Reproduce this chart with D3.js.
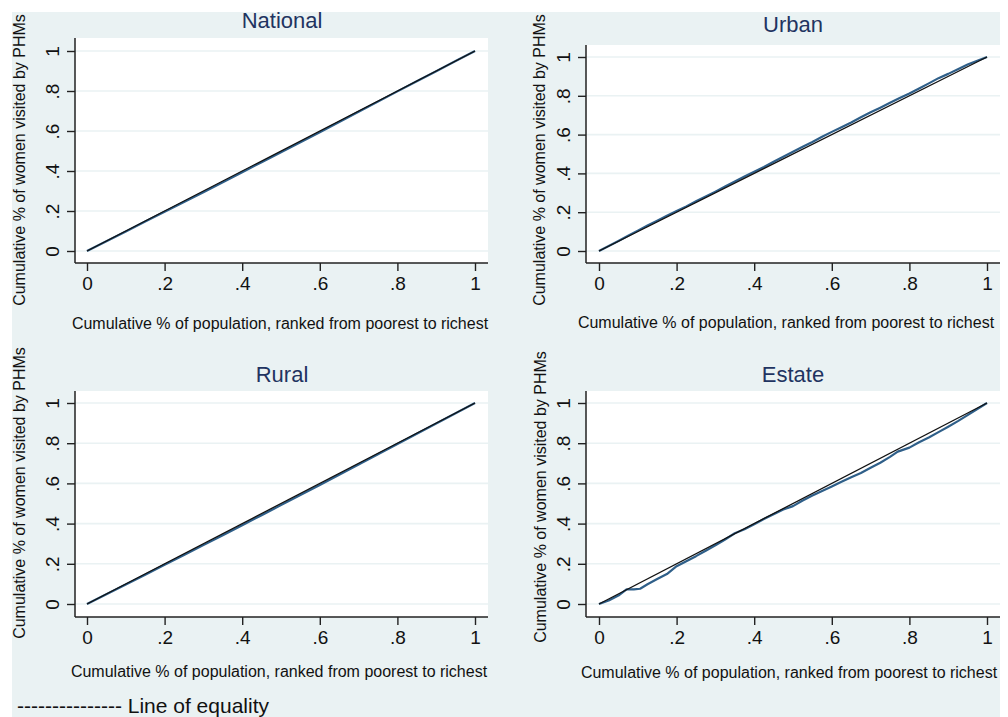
<!DOCTYPE html>
<html>
<head>
<meta charset="utf-8">
<script src="https://cdn.jsdelivr.net/npm/d3@7"></script>
<style>
  html, body { margin: 0; padding: 0; background: #ffffff; }
  svg { display: block; font-family: "Liberation Sans", Arial, Helvetica, sans-serif; }
</style>
</head>
<body>
<svg id="chart" width="1008" height="717"></svg>
<script>
// Concentration curves of PHM visits by wealth rank, four sectors.
const panelTitles = ["National", "Urban", "Rural", "Estate"];
const xAxisTitle = "Cumulative % of population, ranked from poorest to richest";
const yAxisTitle = "Cumulative % of women visited by PHMs";
const tickValues = [0, 0.2, 0.4, 0.6, 0.8, 1];
const tickLabels = ["0", ".2", ".4", ".6", ".8", "1"];
const legendNote = "Line of equality";

// population share grid (coarse) for national and rural
const popCoarse = [0, .05, .1, .15, .2, .25, .3, .35, .4, .45, .5, .55, .6, .65, .7, .75, .8, .85, .9, .95, 1];
const nationalCum = [0, .049, .098, .147, .196, .245, .294, .344, .394, .444, .494, .544, .594, .645, .696, .747, .798, .849, .899, .950, 1];
const ruralCum = [0, .049, .097, .146, .195, .244, .293, .342, .392, .442, .492, .542, .592, .643, .694, .745, .796, .847, .898, .949, 1];

// population share grid (fine) for urban and estate
const popFine = [0, .025, .05, .075, .1, .125, .15, .175, .2, .225, .25, .275, .3, .325, .35, .375, .4, .425, .45, .475,
  .5, .525, .55, .575, .6, .625, .65, .675, .7, .725, .75, .775, .8, .825, .85, .875, .9, .925, .95, .975, 1];
const urbanCum = [0, .026, .052, .079, .105, .131, .156, .182, .206, .230, .256, .281, .306, .332, .358, .384, .409, .433, .460, .486,
  .512, .537, .562, .589, .614, .638, .662, .689, .715, .739, .764, .789, .812, .838, .864, .891, .913, .937, .961, .981, 1];
const estatePop = [0, .025, .05, .071, .09, .106, .125, .15, .175, .2, .225, .25, .275, .3, .325, .35, .375, .4, .425, .45, .475,
  .5, .525, .55, .575, .6, .625, .65, .675, .7, .725, .75, .77, .8, .825, .85, .875, .9, .925, .95, .975, 1];
const estateCum = [0, .017, .042, .073, .073, .076, .098, .124, .149, .188, .213, .238, .265, .292, .321, .352, .372, .397, .423, .447, .470,
  .487, .515, .540, .562, .585, .608, .630, .652, .678, .703, .732, .758, .778, .805, .828, .855, .882, .910, .940, .970, 1];

const equalityLine = [0, 1];

// panel frames: plot area and data range in pixels
const panels = [
  { title: panelTitles[0], xs: popCoarse, ys: nationalCum, plot: [75, 488, 38, 263], xr: [87, 475], yr: [251, 51], titleY: 28, yTitleX: 25, yTitleY: 160, xTitleX: 280, xTitleY: 329, titleX: 282 },
  { title: panelTitles[1], xs: popFine, ys: urbanCum, plot: [586, 1000, 45, 263], xr: [599, 987], yr: [251, 57], titleY: 32, yTitleX: 545, yTitleY: 160, xTitleX: 786, xTitleY: 328, titleX: 793 },
  { title: panelTitles[2], xs: popCoarse, ys: ruralCum, plot: [75, 488, 391, 617], xr: [87, 475], yr: [604, 403], titleY: 382, yTitleX: 25, yTitleY: 493, xTitleX: 279, xTitleY: 677, titleX: 282 },
  { title: panelTitles[3], xs: estatePop, ys: estateCum, plot: [586, 1000, 391, 617], xr: [599, 987], yr: [604, 403], titleY: 382, yTitleX: 546, yTitleY: 497, xTitleX: 789, xTitleY: 678, titleX: 793 }
];

const svg = d3.select("#chart");
const bg = "#eaf2f3";
const curveColor = "#2f5f89";

svg.append("rect").attr("x", 12).attr("y", 12).attr("width", 988).attr("height", 705).attr("fill", bg);

panels.forEach(p => {
  const [px0, px1, py0, py1] = p.plot;
  const x = d3.scaleLinear().domain([0, 1]).range(p.xr);
  const y = d3.scaleLinear().domain([0, 1]).range(p.yr);
  const g = svg.append("g");

  g.append("rect").attr("x", px0).attr("y", py0).attr("width", px1 - px0).attr("height", py1 - py0).attr("fill", "#ffffff");

  // horizontal grid
  g.selectAll("line.grid").data(tickValues).join("line")
    .attr("class", "grid")
    .attr("x1", px0).attr("x2", px1)
    .attr("y1", d => y(d)).attr("y2", d => y(d))
    .attr("stroke", bg).attr("stroke-width", 1.6);

  // concentration curve
  const pts = p.xs.map((v, i) => [v, p.ys[i]]);
  g.append("path").datum(pts)
    .attr("d", d3.line().x(d => x(d[0])).y(d => y(d[1])))
    .attr("fill", "none").attr("stroke", curveColor).attr("stroke-width", 2.2)
    .attr("stroke-linejoin", "round");

  // line of equality
  g.append("path").datum(equalityLine)
    .attr("d", d3.line().x(d => x(d)).y(d => y(d)))
    .attr("fill", "none").attr("stroke", "#111111").attr("stroke-width", 1.3);

  // bottom axis
  const xAxis = d3.axisBottom(x).tickValues(tickValues).tickFormat((d, i) => tickLabels[i]).tickSize(8).tickPadding(5);
  const gx = g.append("g").attr("transform", `translate(0,${py1})`).call(xAxis);
  gx.select(".domain").remove();
  gx.selectAll(".tick line").attr("stroke", "#222").attr("stroke-width", 1.4);
  gx.selectAll(".tick text").attr("fill", "#111").attr("font-size", 19)
    .attr("y", 27).attr("dy", 0).attr("font-family", "Liberation Sans, Arial, sans-serif");
  g.append("line").attr("x1", px0).attr("x2", px1).attr("y1", py1).attr("y2", py1)
    .attr("stroke", "#222").attr("stroke-width", 1.5);

  // left axis with rotated labels
  const yAxis = d3.axisLeft(y).tickValues(tickValues).tickFormat((d, i) => tickLabels[i]).tickSize(8);
  const gy = g.append("g").attr("transform", `translate(${px0},0)`).call(yAxis);
  gy.select(".domain").remove();
  gy.selectAll(".tick line").attr("stroke", "#222").attr("stroke-width", 1.4);
  gy.selectAll(".tick text").attr("fill", "#111").attr("font-size", 19)
    .attr("x", 0).attr("y", 0).attr("dy", 0)
    .attr("text-anchor", "middle")
    .attr("transform", "translate(-16,0) rotate(-90)")
    .attr("font-family", "Liberation Sans, Arial, sans-serif");
  g.append("line").attr("x1", px0).attr("x2", px0).attr("y1", py0).attr("y2", py1)
    .attr("stroke", "#222").attr("stroke-width", 1.5);

  // titles
  g.append("text").attr("x", p.titleX).attr("y", p.titleY).attr("text-anchor", "middle")
    .attr("font-size", 22).attr("fill", "#1f3461").text(p.title);
  g.append("text").attr("x", p.xTitleX).attr("y", p.xTitleY).attr("text-anchor", "middle")
    .attr("font-size", 16).attr("fill", "#111").text(xAxisTitle);
  g.append("text").attr("transform", `translate(${p.yTitleX},${p.yTitleY}) rotate(-90)`)
    .attr("text-anchor", "middle").attr("font-size", 16).attr("fill", "#111").text(yAxisTitle);
});

// note explaining the black diagonal
svg.append("text").attr("x", 17).attr("y", 713).attr("font-size", 21).attr("fill", "#111")
  .text("--------------- " + legendNote);
</script>
</body>
</html>
